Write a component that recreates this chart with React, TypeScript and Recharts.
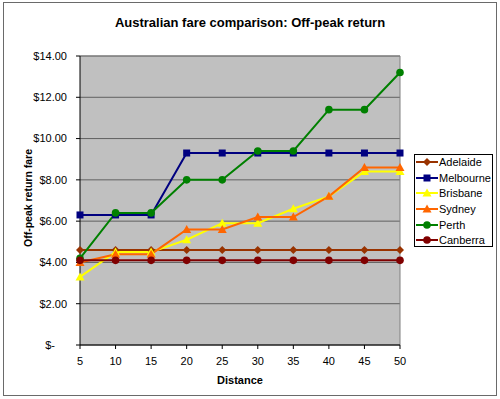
import { LineChart, Line, XAxis, YAxis, CartesianGrid, ReferenceLine } from 'recharts'

const distances = [5, 10, 15, 20, 25, 30, 35, 40, 45, 50]
const adelaide = [4.6, 4.6, 4.6, 4.6, 4.6, 4.6, 4.6, 4.6, 4.6, 4.6]
const melbourne = [6.3, 6.3, 6.3, 9.3, 9.3, 9.3, 9.3, 9.3, 9.3, 9.3]
const brisbane = [3.3, 4.5, 4.5, 5.1, 5.9, 5.9, 6.6, 7.2, 8.4, 8.4]
const sydney = [4.0, 4.4, 4.4, 5.6, 5.6, 6.2, 6.2, 7.2, 8.6, 8.6]
const perth = [4.2, 6.4, 6.4, 8.0, 8.0, 9.4, 9.4, 11.4, 11.4, 13.2]
const canberra = [4.1, 4.1, 4.1, 4.1, 4.1, 4.1, 4.1, 4.1, 4.1, 4.1]
const yTicks = [0, 2, 4, 6, 8, 10, 12, 14]

const FONT = '"Liberation Sans", Arial, sans-serif'

type Shape = 'diamond' | 'square' | 'triangle' | 'circle'

const SERIES: { key: string; name: string; color: string; shape: Shape; values: number[] }[] = [
  { key: 'adelaide', name: 'Adelaide', color: '#993300', shape: 'diamond', values: adelaide },
  { key: 'melbourne', name: 'Melbourne', color: '#000080', shape: 'square', values: melbourne },
  { key: 'brisbane', name: 'Brisbane', color: '#FFFF00', shape: 'triangle', values: brisbane },
  { key: 'sydney', name: 'Sydney', color: '#FF6600', shape: 'triangle', values: sydney },
  { key: 'perth', name: 'Perth', color: '#008000', shape: 'circle', values: perth },
  { key: 'canberra', name: 'Canberra', color: '#800000', shape: 'circle', values: canberra },
]

const data = distances.map((d, i) => {
  const row: Record<string, number> = { distance: d }
  SERIES.forEach((s) => (row[s.key] = s.values[i]))
  return row
})

function Marker({ shape, x, y, color }: { shape: Shape; x: number; y: number; color: string }) {
  if (shape === 'diamond') {
    return <polygon points={`${x},${y - 4} ${x + 4},${y} ${x},${y + 4} ${x - 4},${y}`} fill={color} />
  }
  if (shape === 'square') {
    return <rect x={x - 3.5} y={y - 3.5} width={7} height={7} fill={color} />
  }
  if (shape === 'triangle') {
    return <polygon points={`${x},${y - 4.5} ${x + 4.5},${y + 3.5} ${x - 4.5},${y + 3.5}`} fill={color} />
  }
  return <circle cx={x} cy={y} r={3.8} fill={color} />
}

const makeDot = (shape: Shape, color: string) => (props: any) => {
  const { cx, cy, index } = props
  if (cx == null || cy == null) return <g key={index} />
  return <Marker key={index} shape={shape} x={cx} y={cy} color={color} />
}

// legend is drawn outside recharts so it doesn't eat into the plot area
function LegendBox() {
  return (
    <div
      style={{
        position: 'absolute',
        left: 414,
        top: 154,
        width: 79,
        height: 93,
        boxSizing: 'border-box',
        border: '1px solid #000',
        background: '#fff',
        fontSize: 11,
      }}
    >
      {SERIES.map((s, i) => (
        <div
          key={s.key}
          style={{ position: 'absolute', left: 0, top: i * 15.6 - 0.5, display: 'flex', alignItems: 'center', height: 15.6 }}
        >
          <svg width={22} height={12} style={{ marginLeft: 1, flexShrink: 0 }}>
            <line x1={0} y1={6} x2={22} y2={6} stroke={s.color} strokeWidth={2} />
            <Marker shape={s.shape} x={11} y={6} color={s.color} />
          </svg>
          <span style={{ marginLeft: 1, whiteSpace: 'nowrap' }}>{s.name}</span>
        </div>
      ))}
    </div>
  )
}

const YTick = (props: any) => {
  const { x, y, payload } = props
  const v = payload.value as number
  if (v === 0) {
    return (
      <text x={55} y={y} dy="0.355em" textAnchor="end" fontSize={11} fontFamily={FONT} fill="#000">
        $-
      </text>
    )
  }
  return (
    <text x={x} y={y} dy="0.355em" textAnchor="end" fontSize={11} fontFamily={FONT} fill="#000">
      {`$${v.toFixed(2)}`}
    </text>
  )
}

export default function App() {
  return (
    <div style={{ position: 'absolute', left: 0, top: 0, width: 500, height: 399, background: '#fff', fontFamily: FONT }}>
      <div
        style={{
          position: 'absolute',
          left: 3,
          top: 2,
          width: 492,
          height: 392,
          border: '1px solid #6a6a6a',
        }}
      />
      <LineChart
        width={500}
        height={399}
        data={data}
        margin={{ top: 56, right: 100, bottom: 0, left: 10 }}
        style={{ position: 'absolute', left: 0, top: 0 }}
      >
        <CartesianGrid vertical={false} fill="#C0C0C0" stroke="#606060" />
        <XAxis
          dataKey="distance"
          type="number"
          domain={[5, 50]}
          ticks={distances}
          height={54}
          axisLine={{ stroke: '#000' }}
          tickLine={{ stroke: '#000' }}
          tickSize={4}
          tickMargin={8}
          tick={{ fill: '#000', fontSize: 11, fontFamily: FONT }}
        />
        <YAxis
          domain={[0, 14]}
          ticks={yTicks}
          width={70}
          axisLine={{ stroke: '#000' }}
          tickLine={{ stroke: '#000' }}
          tickSize={4}
          tickMargin={9}
          tick={<YTick />}
        />
        <ReferenceLine y={14} stroke="#808080" />
        <ReferenceLine x={50} stroke="#808080" />
        {SERIES.map((s) => (
          <Line
            key={s.key}
            dataKey={s.key}
            name={s.name}
            stroke={s.color}
            strokeWidth={2}
            dot={makeDot(s.shape, s.color)}
            activeDot={false}
            isAnimationActive={false}
          />
        ))}
      </LineChart>
      <div
        style={{
          position: 'absolute',
          top: 15,
          width: 500,
          textAlign: 'center',
          fontWeight: 'bold',
          fontSize: 13,
        }}
      >
        Australian fare comparison: Off-peak return
      </div>
      <div
        style={{
          position: 'absolute',
          left: 28,
          top: 198,
          transform: 'translate(-50%, -50%) rotate(-90deg)',
          whiteSpace: 'nowrap',
          fontWeight: 'bold',
          fontSize: 10.5,
        }}
      >
        Off-peak return fare
      </div>
      <div
        style={{
          position: 'absolute',
          left: 240,
          top: 374,
          transform: 'translateX(-50%)',
          fontWeight: 'bold',
          fontSize: 11,
        }}
      >
        Distance
      </div>
      <LegendBox />
    </div>
  )
}
